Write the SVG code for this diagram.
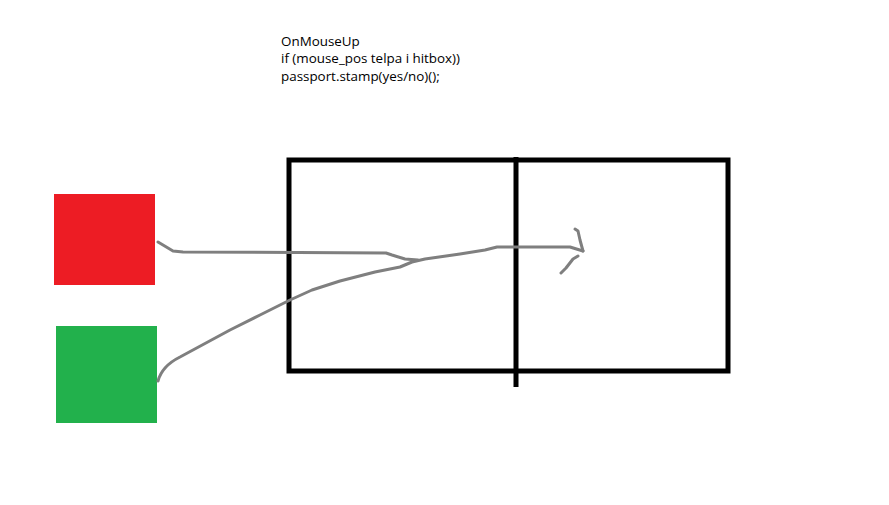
<svg xmlns="http://www.w3.org/2000/svg" width="889" height="505" viewBox="0 0 889 505">
<style>
.t{font-family:"Open Sans","Liberation Sans",sans-serif;font-size:13.4px;fill:#000}
.c{fill:none;stroke:#7f7f7f;stroke-width:3;stroke-linecap:round;stroke-linejoin:round}
.b{fill:none;stroke:#000;stroke-width:5}
</style>
<rect width="889" height="505" fill="#fff"/>
<g id="label">
<text class="t" x="281" y="46">OnMouseUp</text>
<text class="t" x="281" y="63">if (mouse_pos telpa i hitbox))</text>
<text class="t" x="281" y="81">passport.stamp(yes/no)();</text>
</g>
<g id="hitbox">
<rect class="b" x="289" y="160" width="439" height="211"/>
<line class="b" x1="516" y1="157" x2="516" y2="387"/>
</g>
<g id="red"><rect x="54" y="194" width="101" height="91" fill="#ed1c24"/></g>
<g id="green"><rect x="56" y="326" width="101" height="97" fill="#22b14c"/></g>
<g id="connectors">
<path class="c" d="M158,242 L173,251 L183,252 L386,253 L392,255 L405,259 L418,260"/>
<path class="c" d="M158,381 Q162,366 180,357 L230,330 L260,315 L290,300 L312,290 L340,281 L375,272 L400,267 L412,262 L425,259 L460,254 L485,250 L497,247 L570,247 L583,251"/>
<path class="c" d="M575,229 L578,231 L580,240 L583,251"/>
<path class="c" d="M578,256 L573,259 L566,268 L561,273"/>
</g>
</svg>
